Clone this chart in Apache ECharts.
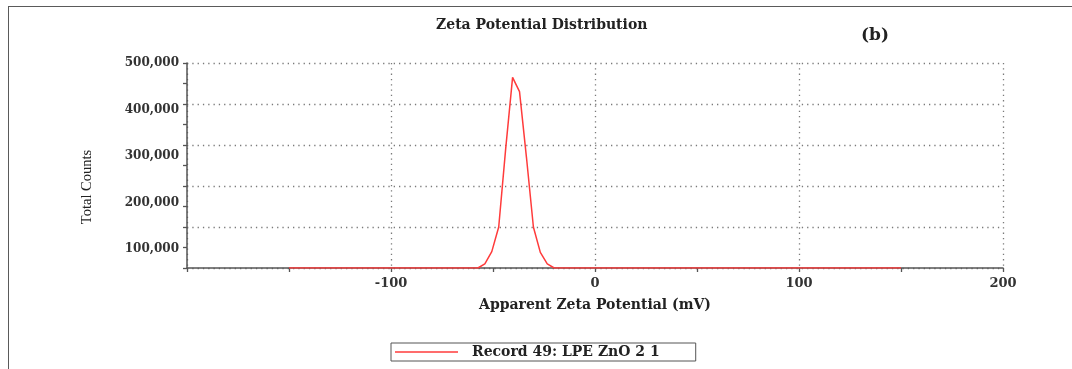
<!DOCTYPE html>
<html>
<head>
<meta charset="utf-8">
<title>Zeta Potential Distribution</title>
<script src="https://cdn.jsdelivr.net/npm/echarts@6/dist/echarts.min.js"></script>
<style>
  html, body { margin: 0; padding: 0; background: #ffffff; }
  #wrap { position: relative; width: 1072px; height: 369px; overflow: hidden; }
  #frame {
    position: absolute; left: 8px; top: 6px; right: -4px; bottom: -4px;
    border-top: 1.5px solid #5a5a5a; border-left: 1.5px solid #5a5a5a;
    pointer-events: none;
  }
  #chart { position: absolute; left: 0; top: 0; width: 1072px; height: 369px; }
</style>
</head>
<body>
<div id="wrap">
  <div id="chart"></div>
  <div id="frame"></div>
</div>
<script>
// Apparent zeta potential (mV) and the total counts recorded at each value
const zetaMv = [-150, -57.4, -54.0, -50.6, -47.2, -43.8, -40.4, -37.0, -33.6, -30.2, -26.8, -23.4, -20.0, 150];
const totalCounts = [0, 0, 10000, 40000, 100000, 290000, 465000, 430000, 270000, 100000, 38000, 10000, 0, 0];

// Count axis labels and their printed text
const countTickValues = [100000, 200000, 300000, 400000, 500000];
const countTickText = ['100,000', '200,000', '300,000', '400,000', '500,000'];

const seriesName = 'Record 49: LPE ZnO 2 1';
const titleText = 'Zeta Potential Distribution';
const panelTag = '(b)';
const xAxisTitle = 'Apparent Zeta Potential (mV)';
const yAxisTitle = 'Total Counts';

const serif = '"DejaVu Serif", "Liberation Serif", serif';
const axisGrey = '#555555';
const gridDots = { color: '#7a7a7a', width: 1.3, type: [1.3, 4] };

const points = zetaMv.map((x, i) => [x, totalCounts[i]]);

const chart = echarts.init(document.getElementById('chart'), null, { renderer: 'canvas' });

chart.setOption({
  animation: false,
  backgroundColor: 'transparent',
  title: [
    {
      text: titleText,
      left: 436, top: 18,
      padding: 0,
      textStyle: { fontFamily: serif, fontWeight: 'bold', fontSize: 14, color: '#222' }
    },
    {
      text: panelTag,
      left: 861, top: 27,
      padding: 0,
      textStyle: { fontFamily: serif, fontWeight: 'bold', fontSize: 17, color: '#222' }
    }
  ],
  legend: {
    data: [seriesName],
    left: 391, top: 343,
    orient: 'horizontal',
    icon: 'rect',
    itemWidth: 63, itemHeight: 1.5,
    padding: [2, 36, 2, 4],
    borderColor: '#555', borderWidth: 1,
    textStyle: { fontFamily: serif, fontWeight: 'bold', fontSize: 14, color: '#222', padding: [0, 0, 0, 9] }
  },
  grid: { left: 187, right: 69, top: 63, bottom: 101 },
  xAxis: {
    type: 'value',
    min: -200, max: 200, interval: 100,
    name: xAxisTitle,
    nameLocation: 'middle',
    nameGap: 30,
    nameTextStyle: { fontFamily: serif, fontWeight: 'bold', fontSize: 14, color: '#222' },
    axisLine: { show: true, onZero: false, lineStyle: { color: axisGrey, width: 1.5 } },
    axisTick: { show: true, length: 4, lineStyle: { color: axisGrey, width: 1.3 } },
    minorTick: { show: true, splitNumber: 2, length: 4, lineStyle: { color: axisGrey, width: 1.3 } },
    axisLabel: {
      showMinLabel: false,
      margin: 9,
      fontFamily: serif, fontWeight: 'bold', fontSize: 13, color: '#333'
    },
    splitLine: { show: true, lineStyle: gridDots }
  },
  yAxis: [
    {
      type: 'value',
      min: 0, max: 500000, interval: 100000,
      axisLine: { show: true, onZero: false, lineStyle: { color: axisGrey, width: 1.5 } },
      axisTick: { show: true, length: 4, lineStyle: { color: axisGrey, width: 1.3 } },
      minorTick: { show: true, splitNumber: 2, length: 4, lineStyle: { color: axisGrey, width: 1.3 } },
      axisLabel: { show: false },
      splitLine: { show: true, lineStyle: gridDots }
    },
    {
      // label-only scale for the count tick text
      type: 'value',
      position: 'left',
      min: 59000, max: 500000,
      axisLine: { show: false, onZero: false },
      axisTick: { show: false },
      splitLine: { show: false },
      axisLabel: {
        customValues: countTickValues,
        formatter: (v) => countTickText[countTickValues.indexOf(v)] || '',
        margin: 8,
        fontFamily: serif, fontWeight: 'bold', fontSize: 12, color: '#333'
      }
    }
  ],
  graphic: [
    {
      type: 'text',
      x: 87, y: 187,
      rotation: Math.PI / 2,
      style: {
        text: yAxisTitle,
        fontFamily: '"Liberation Serif", serif',
        fontSize: 14.5,
        fill: '#222',
        align: 'center',
        verticalAlign: 'middle'
      }
    }
  ],
  series: [
    {
      name: seriesName,
      type: 'line',
      xAxisIndex: 0,
      yAxisIndex: 0,
      data: points,
      showSymbol: false,
      symbol: 'none',
      lineStyle: { color: '#ff3b3b', width: 1.5 },
      itemStyle: { color: '#ff3b3b' },
      z: 3
    }
  ]
});
</script>
</body>
</html>
